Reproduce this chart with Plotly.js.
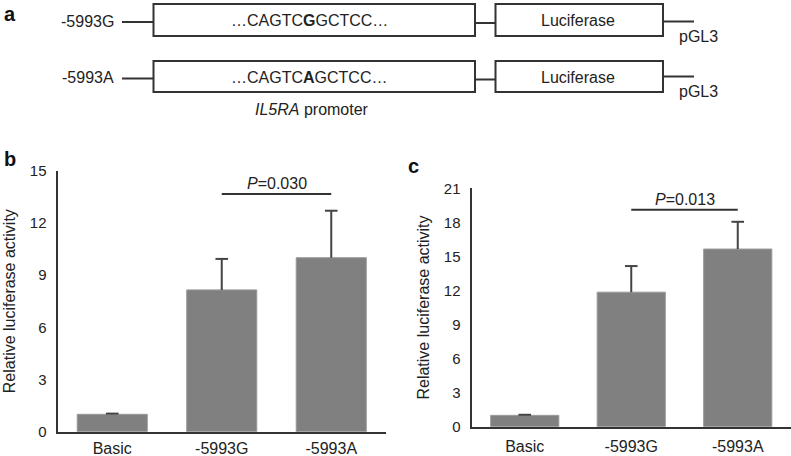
<!DOCTYPE html>
<html>
<head>
<meta charset="utf-8">
<script src="https://cdn.plot.ly/plotly-3.0.1.min.js"></script>
<style>html,body{margin:0;padding:0;background:#fff}#chart{width:791px;height:456px}</style>
</head>
<body>
<div id="chart"></div>
<script>
// ---- data ----
const categories = ["Basic", "-5993G", "-5993A"];
const valuesB = [1.0, 8.15, 10.0];
const errorsB = [0.04, 1.78, 2.7];
const valuesC = [1.0, 11.85, 15.65];
const errorsC = [0.05, 2.3, 2.4];
const ticksB = [0, 3, 6, 9, 12, 15];
const ticksC = [0, 3, 6, 9, 12, 15, 18, 21];
const pLabelB = "<i>P</i>=0.030";
const pLabelC = "<i>P</i>=0.013";
const sigLineB = 13.66, sigTextB = 14.25;
const sigLineC = 19.1, sigTextC = 20.05;
const alleles = ["-5993G", "-5993A"];
const sequences = ["…CAGTC<b>G</b>GCTCC…", "…CAGTC<b>A</b>GCTCC…"];
const reporter = "Luciferase";
const vector = "pGL3";
const promoterLabel = "<i>IL5RA</i> promoter";
const yTitle = "Relative luciferase activity";

// ---- layout helpers (pixel -> paper) ----
const W = 791, H = 456;
const px = x => x / W;
const py = y => 1 - y / H;
const FONT = '"Liberation Sans", Arial, Helvetica, sans-serif';
const INK = '#222';
const LINE = '#333';
const BAR = '#808080';
const ERR = '#444';

const zeros = categories.map(() => 0);
const topsB = valuesB.map((v, i) => v + errorsB[i]);
const topsC = valuesC.map((v, i) => v + errorsC[i]);

function barTrace(vals, errs, xa, ya) {
  return {
    type: 'bar', x: categories, y: vals, xaxis: xa, yaxis: ya,
    marker: {color: BAR, line: {color: '#9a9a9a', width: 1}},
    error_y: {type: 'data', array: errs, arrayminus: zeros, symmetric: false, color: ERR, thickness: 2, width: 0},
    hoverinfo: 'x+y', showlegend: false
  };
}
function capTrace(tops, xa, ya) {
  return {
    type: 'scatter', mode: 'markers', x: categories, y: tops, xaxis: xa, yaxis: ya,
    marker: {symbol: 'line-ew-open', size: 9, color: ERR, line: {color: ERR, width: 2}},
    hoverinfo: 'skip', showlegend: false, cliponaxis: false
  };
}

const traces = [
  barTrace(valuesB, errorsB, 'x', 'y'),
  capTrace(topsB, 'x', 'y'),
  barTrace(valuesC, errorsC, 'x2', 'y2'),
  capTrace(topsC, 'x2', 'y2')
];

const shapes = [];
const annotations = [];

// ---- panel a: constructs ----
const rows = [
  {top: 4, bot: 36, tail: 21.5, pgl: 37},
  {top: 61, bot: 92, tail: 76.5, pgl: 91}
];
rows.forEach((r, i) => {
  const c = (r.top + r.bot) / 2;
  const ln = {color: LINE, width: 2};
  shapes.push({type: 'line', xref: 'paper', yref: 'paper', x0: px(122), x1: px(153), y0: py(c + 2), y1: py(c + 2), line: ln});
  shapes.push({type: 'rect', xref: 'paper', yref: 'paper', x0: px(153.5), x1: px(475), y0: py(r.bot), y1: py(r.top), line: ln});
  shapes.push({type: 'line', xref: 'paper', yref: 'paper', x0: px(475), x1: px(495.5), y0: py(c + 3), y1: py(c + 3), line: ln});
  shapes.push({type: 'rect', xref: 'paper', yref: 'paper', x0: px(495.5), x1: px(663), y0: py(r.bot), y1: py(r.top), line: ln});
  shapes.push({type: 'line', xref: 'paper', yref: 'paper', x0: px(663), x1: px(694), y0: py(r.tail), y1: py(r.tail), line: ln});

  annotations.push({xref: 'paper', yref: 'paper', x: px(116), y: py(c + 1.5), xanchor: 'right', yanchor: 'middle', text: alleles[i], showarrow: false, font: {size: 16, color: INK, family: FONT}});
  annotations.push({xref: 'paper', yref: 'paper', x: px(309), y: py(c + 1), xanchor: 'center', yanchor: 'middle', text: sequences[i], showarrow: false, font: {size: 16, color: INK, family: FONT}});
  annotations.push({xref: 'paper', yref: 'paper', x: px(578), y: py(c + 0.5), xanchor: 'center', yanchor: 'middle', text: reporter, showarrow: false, font: {size: 16, color: INK, family: FONT}});
  annotations.push({xref: 'paper', yref: 'paper', x: px(677), y: py(r.pgl), xanchor: 'left', yanchor: 'middle', text: vector, showarrow: false, font: {size: 16, color: INK, family: FONT}});
});
annotations.push({xref: 'paper', yref: 'paper', x: px(312), y: py(110), xanchor: 'center', yanchor: 'middle', text: promoterLabel, showarrow: false, font: {size: 16, color: INK, family: FONT}});

// panel letters
[['a', 2, 14], ['b', 2, 159], ['c', 406, 166]].forEach(([t, x, y]) => {
  annotations.push({xref: 'paper', yref: 'paper', x: px(x), y: py(y), xanchor: 'left', yanchor: 'middle', text: '<b>' + t + '</b>', showarrow: false, font: {size: 20, color: '#111', family: FONT}});
});

// significance brackets
shapes.push({type: 'line', xref: 'x', yref: 'y', x0: 1, x1: 2, y0: sigLineB, y1: sigLineB, line: {color: LINE, width: 2}});
annotations.push({xref: 'x', yref: 'y', x: 1.5, y: sigTextB, text: pLabelB, showarrow: false, xanchor: 'center', yanchor: 'middle', font: {size: 16, color: INK, family: FONT}});
shapes.push({type: 'line', xref: 'x2', yref: 'y2', x0: 1, x1: 2, y0: sigLineC, y1: sigLineC, line: {color: LINE, width: 2}});
annotations.push({xref: 'x2', yref: 'y2', x: 1.5, y: sigTextC, text: pLabelC, showarrow: false, xanchor: 'center', yanchor: 'middle', font: {size: 16, color: INK, family: FONT}});

const xaxisCommon = {
  type: 'category', showline: true, linecolor: LINE, linewidth: 2, ticks: '', showgrid: false, zeroline: false,
  tickfont: {size: 16, color: INK, family: FONT}, fixedrange: true
};
const yaxisCommon = {
  showline: true, linecolor: LINE, linewidth: 2, ticks: '', showgrid: false, zeroline: false,
  tickfont: {size: 15, color: INK, family: FONT}, ticklabelstandoff: 6, fixedrange: true,
  title: {text: yTitle, font: {size: 16, color: INK, family: FONT}, standoff: 10}
};

const layout = {
  width: W, height: H,
  margin: {l: 0, r: 0, t: 0, b: 0},
  paper_bgcolor: '#fff', plot_bgcolor: '#fff',
  bargap: 0.36,
  font: {family: FONT, color: INK},
  showlegend: false,
  xaxis: Object.assign({}, xaxisCommon, {domain: [px(57.5), px(386)], anchor: 'y', ticklabelstandoff: 1}),
  yaxis: Object.assign({}, yaxisCommon, {domain: [py(431.7), py(170.7)], range: [0, 15], tickvals: ticksB, anchor: 'x'}),
  xaxis2: Object.assign({}, xaxisCommon, {domain: [px(471.5), 1], anchor: 'y2', ticklabelstandoff: 4}),
  yaxis2: Object.assign({}, yaxisCommon, {domain: [py(426.7), py(188.3)], range: [0, 21], tickvals: ticksC, anchor: 'x2'}),
  shapes: shapes,
  annotations: annotations
};

Plotly.newPlot('chart', traces, layout, {displayModeBar: false, staticPlot: true});
</script>
</body>
</html>
